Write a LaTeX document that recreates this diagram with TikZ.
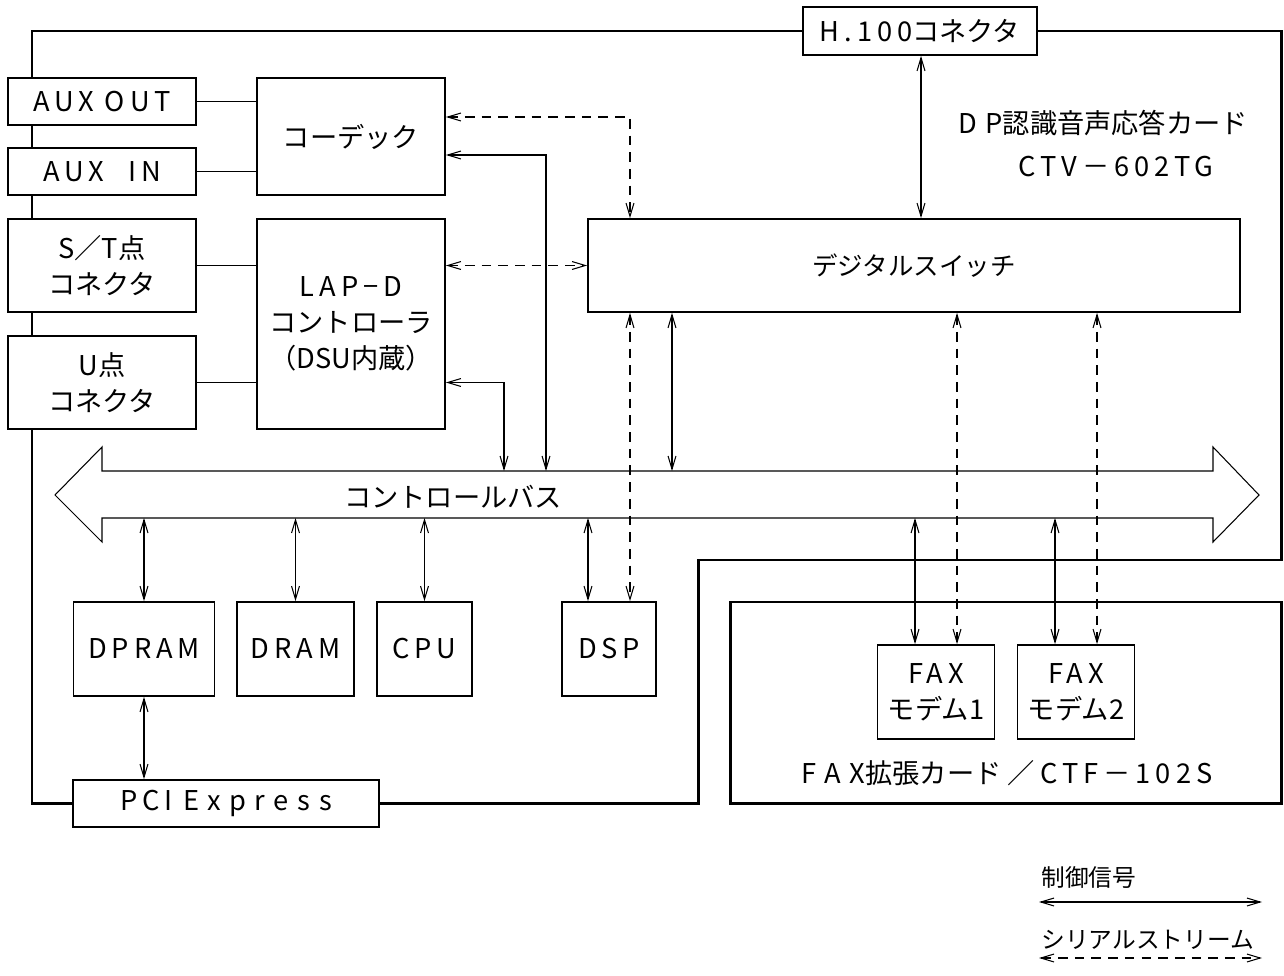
\documentclass[tikz,border=0pt]{standalone}
\usepackage{fontspec}
\setmainfont{Noto Sans CJK JP}
\newfontfamily\lsfont[LetterSpace=18]{Noto Sans CJK JP}
\newfontfamily\lsfontw[LetterSpace=32]{Noto Sans CJK JP}
\newcommand{\lsp}[1]{{\lsfont #1}}
\newcommand{\lspw}[1]{{\lsfontw #1}}
\usetikzlibrary{arrows.meta,calc,backgrounds}
\begin{document}
\begin{tikzpicture}[x=0.02cm,y=-0.02cm,
	sz/.style 2 args={minimum width=#1*0.02cm,minimum height=#2*0.02cm},
	box/.style={draw,line width=1pt,fill=white,inner sep=0pt,align=center,font=\fontsize{15.5}{20.5}\selectfont},
	lbl/.style={inner sep=0pt,font=\fontsize{15.5}{20}\selectfont},
	legend/.style={lbl,anchor=west,font=\fontsize{13.5}{16}\selectfont},
	card/.style={line width=1.7pt},
	ctl/.style={line width=0.6pt,{Straight Barb[length=7.5pt,width=4.5pt]}-{Straight Barb[length=7.5pt,width=4.5pt]}},
	strm/.style={ctl,dash pattern=on 5.5pt off 4pt}]
	\useasboundingbox (0,0) rectangle (1284,976);
	\node[box,sz={234}{48}] (h100) at (920,31) {\lsp{H.100}コネクタ};
	\node[box,sz={188}{47}] (auxout) at (102,101.5) {\lsp{AUX OUT}};
	\node[box,sz={188}{47}] (auxin) at (102,171.5) {\lsp{AUX\hspace{0.9em}IN}};
	\node[box,sz={188}{93}] (stcon) at (102,265.5) {S／T点\\コネクタ};
	\node[box,sz={188}{93}] (ucon) at (102,382.5) {U点\\コネクタ};
	\node[box,sz={188}{117}] (codec) at (351,136.5) {コーデック};
	\node[box,sz={188}{210}] (lapd) at (351,324) {\lsp{LAP−D}\\コントローラ\\（DSU内蔵）};
	\node[box,sz={652}{93},font=\fontsize{14.5}{18}\selectfont] (dsw) at (914,265.5) {デジタルスイッチ};
	\node[lbl] (title) at (1103,123) {\lspw{DP}認識音声応答カード};
	\node[lbl] (model) at (1116,167) {\lsp{CTV－602TG}};
	\draw[line width=0.6pt] (55,495) -- (102,447) -- (102,471) -- (1213,471) -- (1213,447) -- (1259,495)
		-- (1213,542) -- (1213,518) -- (102,518) -- (102,542) -- cycle;
	\node[lbl] (bus) at (453,497) {コントロールバス};
	\coordinate (bustop) at (0,471);
	\coordinate (busbot) at (0,518);
	\node[box,sz={141}{94}] (dpram) at (144,649) {\lsp{DPRAM}};
	\node[box,sz={117}{94}] (dram) at (295.5,649) {\lsp{DRAM}};
	\node[box,sz={95}{94}] (cpu) at (424.5,649) {\lsp{CPU}};
	\node[box,sz={94}{94}] (dsp) at (609,649) {\lsp{DSP}};
	\node[box,sz={306}{47}] (pcie) at (226,803.5) {\lsp{PCI}\hspace{0.4em}\lspw{Express}};
	\node[box,card,sz={551}{201}] (faxcard) at (1005.5,702.5) {};
	\node[box,sz={117}{94}] (modem1) at (936,692) {\lsp{FAX}\\モデム1};
	\node[box,sz={117}{94}] (modem2) at (1076,692) {\lsp{FAX}\\モデム2};
	\node[lbl] (faxlbl) at (1007,773) {\lspw{FAX}拡張カード ／ \lsp{CTF－102S}};
	\begin{pgfonlayer}{background}
		\draw[card] (h100.west) -- (32,31) -- (32,803.5) -- (pcie.west);
		\draw[card] (pcie.east) -- (698,803.5) -- (698,560) -- (1281,560) -- (1281,31) -- (h100.east);
	\end{pgfonlayer}
	\draw[line width=0.6pt] (auxout.east) -- (auxout.east -| codec.west);
	\draw[line width=0.6pt] (auxin.east) -- (auxin.east -| codec.west);
	\draw[line width=0.6pt] (stcon.east) -- (stcon.east -| lapd.west);
	\draw[line width=0.6pt] (ucon.east) -- (ucon.east -| lapd.west);
	\coordinate (c1) at (630,117);
	\coordinate (c2) at (546,155);
	\coordinate (c4) at (504,382.5);
	\coordinate (c5) at (672,0);
	\coordinate (c6) at (921,0);
	\coordinate (dspc) at ($(dsp.north)+(-21,0)$);
	\coordinate (dsps) at ($(dsp.north)+(21,0)$);
	\coordinate (m1c) at ($(modem1.north)+(-21,0)$);
	\coordinate (m1s) at ($(modem1.north)+(21,0)$);
	\coordinate (m2c) at ($(modem2.north)+(-21,0)$);
	\coordinate (m2s) at ($(modem2.north)+(21,0)$);
	\draw[strm] (codec.east |- c1) -- (c1) -- (c1 |- dsw.north);
	\draw[strm] (lapd.east |- dsw.west) -- (dsw.west);
	\draw[strm] (dsw.south -| dsps) -- (dsps);
	\draw[strm] (dsw.south -| m1s) -- (m1s);
	\draw[strm] (dsw.south -| m2s) -- (m2s);
	\draw[ctl] (h100.south -| c6) -- (c6 |- dsw.north);
	\draw[ctl] (codec.east |- c2) -- (c2) -- (c2 |- bustop);
	\draw[ctl] (lapd.east |- c4) -- (c4) -- (c4 |- bustop);
	\draw[ctl] (dsw.south -| c5) -- (c5 |- bustop);
	\draw[ctl] (busbot -| dpram.north) -- (dpram.north);
	\draw[ctl] (busbot -| dram.north) -- (dram.north);
	\draw[ctl] (busbot -| cpu.north) -- (cpu.north);
	\draw[ctl] (busbot -| dspc) -- (dspc);
	\draw[ctl] (busbot -| m1c) -- (m1c);
	\draw[ctl] (busbot -| m2c) -- (m2c);
	\draw[ctl] (dpram.south) -- (pcie.north -| dpram.south);
	\node[legend] (lgctl) at (1041,877) {制御信号};
	\coordinate (l1a) at (1039,902);
	\coordinate (l1b) at (1262,902);
	\draw[ctl] (l1a) -- (l1b);
	\node[legend] (lgstr) at (1041,940) {シリアルストリーム};
	\coordinate (l2a) at (1039,958);
	\coordinate (l2b) at (1262,958);
	\draw[strm] (l2a) -- (l2b);
\end{tikzpicture}
\end{document}
